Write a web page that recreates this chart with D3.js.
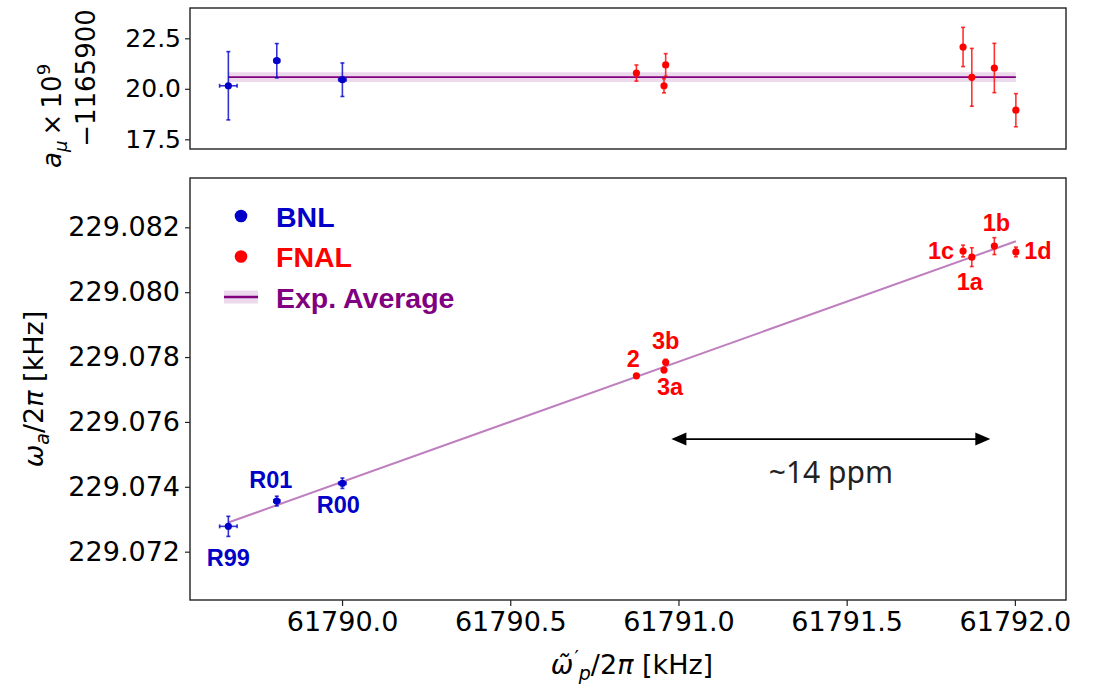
<!DOCTYPE html>
<html>
<head>
<meta charset="utf-8">
<script src="https://cdn.jsdelivr.net/npm/d3@7/dist/d3.min.js"></script>
<style>
  body { margin: 0; background: #fff; }
  svg { display: block; }
</style>
</head>
<body>
<svg id="chart" width="1094" height="689"></svg>
<script>
// ---------------- data ----------------
const bnlLabels = ["R99", "R01", "R00"];
const bnlWp     = [61789.662, 61789.806, 61790.001];
const bnlWpErr  = [0.026, 0.009, 0.011];
const bnlWa     = [229.07278, 229.07356, 229.07411];
const bnlWaErr  = [0.00031, 0.00015, 0.00016];
const bnlAmu    = [20.15, 21.39, 20.45];
const bnlAmuErr = [1.69, 0.85, 0.83];

const fnalLabels = ["2", "3a", "3b", "1a", "1b", "1c", "1d"];
const fnalWp     = [61790.875, 61790.957, 61790.962, 61791.872, 61791.939, 61791.846, 61792.003];
const fnalWpErr  = [0.003, 0.003, 0.003, 0.003, 0.003, 0.003, 0.003];
const fnalWa     = [229.07742, 229.07760, 229.07784, 229.08108, 229.08142, 229.08127, 229.08124];
const fnalWaErr  = [0.00005, 0.00008, 0.00009, 0.00029, 0.00026, 0.00018, 0.00015];
const fnalAmu    = [20.78, 20.15, 21.18, 20.57, 21.03, 22.07, 18.94];
const fnalAmuErr = [0.40, 0.35, 0.56, 1.43, 1.22, 0.97, 0.82];

const avgAmu = 20.58;
const avgAmuErr = 0.24;
const fitWp = [61789.662, 61792.003];
const fitWa = [229.07290, 229.08157];

const arrowWp = [61790.979, 61791.927];
const arrowWa = 229.07547;
const arrowText = "~14 ppm";

const xTicks = [61790.0, 61790.5, 61791.0, 61791.5, 61792.0];
const yTicksBottom = [229.072, 229.074, 229.076, 229.078, 229.080, 229.082];
const yTicksTop = [17.5, 20.0, 22.5];

const legendItems = ["BNL", "FNAL", "Exp. Average"];

// label placement offsets (px) relative to the points (style only)
const bnlLabelOff  = [[0, 40], [-6, -13], [-4, 30]];
const fnalLabelOff = [[-3, -9], [6, 25], [0, -13], [-2, 33], [2, -15], [-22, 8], [22, 7]];

// ---------------- layout ----------------
const BLUE = "#0000c8", RED = "#ff0000", PURPLE = "#800080";
const L = 190, R = 1066;
const topP = {t: 8, b: 149};
const botP = {t: 178, b: 600};

const svg = d3.select("#chart");

const x = d3.scaleLinear().domain([61789.548, 61792.152]).range([L, R]);
const yTop = d3.scaleLinear().domain([17.02, 24.0]).range([topP.b, topP.t]);
const yBot = d3.scaleLinear().domain([229.07051, 229.08352]).range([botP.b, botP.t]);

const bnl = bnlLabels.map((l, i) => ({l, wp: bnlWp[i], wpe: bnlWpErr[i], wa: bnlWa[i], wae: bnlWaErr[i], a: bnlAmu[i], ae: bnlAmuErr[i], off: bnlLabelOff[i]}));
const fnal = fnalLabels.map((l, i) => ({l, wp: fnalWp[i], wpe: fnalWpErr[i], wa: fnalWa[i], wae: fnalWaErr[i], a: fnalAmu[i], ae: fnalAmuErr[i], off: fnalLabelOff[i]}));

// ---------------- top panel ----------------
const gTop = svg.append("g");
gTop.append("rect")
  .attr("x", x(fitWp[0])).attr("width", x(fitWp[1]) - x(fitWp[0]))
  .attr("y", yTop(avgAmu + avgAmuErr)).attr("height", yTop(avgAmu - avgAmuErr) - yTop(avgAmu + avgAmuErr))
  .attr("fill", PURPLE).attr("fill-opacity", 0.15);
gTop.append("line")
  .attr("x1", x(fitWp[0])).attr("x2", x(fitWp[1]))
  .attr("y1", yTop(avgAmu)).attr("y2", yTop(avgAmu))
  .attr("stroke", PURPLE).attr("stroke-width", 1.8);

function errbars(g, data, color, yScale, yKey, yeKey, xErr) {
  const eg = g.append("g").attr("stroke", color).attr("stroke-opacity", 0.8).attr("stroke-width", 1.6);
  data.forEach(d => {
    const cx = x(d.wp);
    const y1 = yScale(d[yKey] - d[yeKey]), y2 = yScale(d[yKey] + d[yeKey]);
    eg.append("line").attr("x1", cx).attr("x2", cx).attr("y1", y1).attr("y2", y2);
    eg.append("line").attr("x1", cx - 2).attr("x2", cx + 2).attr("y1", y1).attr("y2", y1);
    eg.append("line").attr("x1", cx - 2).attr("x2", cx + 2).attr("y1", y2).attr("y2", y2);
    if (xErr) {
      const cy = yScale(d[yKey]);
      const x1 = x(d.wp - d.wpe), x2 = x(d.wp + d.wpe);
      eg.append("line").attr("x1", x1).attr("x2", x2).attr("y1", cy).attr("y2", cy);
      eg.append("line").attr("x1", x1).attr("x2", x1).attr("y1", cy - 2).attr("y2", cy + 2);
      eg.append("line").attr("x1", x2).attr("x2", x2).attr("y1", cy - 2).attr("y2", cy + 2);
    }
  });
  g.append("g").selectAll("circle").data(data).join("circle")
    .attr("cx", d => x(d.wp)).attr("cy", d => yScale(d[yKey]))
    .attr("r", 3.6).attr("fill", color);
}

errbars(gTop, bnl, BLUE, yTop, "a", "ae", true);
errbars(gTop, fnal, RED, yTop, "a", "ae", false);

const axTop = gTop.append("g").attr("transform", `translate(${L},0)`)
  .call(d3.axisLeft(yTop).tickValues(yTicksTop).tickFormat(d3.format(".1f")).tickSize(5).tickPadding(4));
axTop.select(".domain").remove();
axTop.selectAll("text").attr("font-family", "DejaVu Sans").attr("font-size", 25).attr("fill", "#000");
axTop.selectAll("line").attr("stroke", "#222").attr("stroke-width", 1.2);

gTop.append("rect").attr("x", L).attr("y", topP.t).attr("width", R - L).attr("height", topP.b - topP.t)
  .attr("fill", "none").attr("stroke", "#222").attr("stroke-width", 1.4);

// top y label (two lines, rotated)
const tl1 = svg.append("text").attr("font-family", "DejaVu Sans").attr("font-size", 26)
  .attr("text-anchor", "start").attr("transform", "translate(61,168) rotate(-90)");
tl1.append("tspan").attr("font-style", "italic").text("a");
tl1.append("tspan").attr("font-style", "italic").attr("font-size", 18).attr("dy", 6).text("μ");
tl1.append("tspan").attr("dy", -6).text("\u2009×\u200910");
tl1.append("tspan").attr("font-size", 18).attr("dy", -11).text("9");
svg.append("text").attr("font-family", "DejaVu Sans").attr("font-size", 26)
  .attr("text-anchor", "middle").attr("transform", "translate(95,78) rotate(-90)")
  .text("−1165900");

// ---------------- bottom panel ----------------
const gBot = svg.append("g");

gBot.append("line")
  .attr("x1", x(fitWp[0])).attr("x2", x(fitWp[1]))
  .attr("y1", yBot(fitWa[0])).attr("y2", yBot(fitWa[1]))
  .attr("stroke", PURPLE).attr("stroke-opacity", 0.5).attr("stroke-width", 2);

errbars(gBot, bnl, BLUE, yBot, "wa", "wae", true);
errbars(gBot, fnal, RED, yBot, "wa", "wae", false);

// point labels
gBot.append("g").selectAll("text").data(bnl).join("text")
  .attr("x", d => x(d.wp) + d.off[0]).attr("y", d => yBot(d.wa) + d.off[1])
  .attr("text-anchor", "middle").attr("font-family", "Liberation Sans, Arial, sans-serif")
  .attr("font-weight", "bold").attr("font-size", 23.5).attr("fill", BLUE).text(d => d.l);
gBot.append("g").selectAll("text").data(fnal).join("text")
  .attr("x", d => x(d.wp) + d.off[0]).attr("y", d => yBot(d.wa) + d.off[1])
  .attr("text-anchor", "middle").attr("font-family", "Liberation Sans, Arial, sans-serif")
  .attr("font-weight", "bold").attr("font-size", 23.5).attr("fill", RED).text(d => d.l);

// arrow annotation
const ay = yBot(arrowWa), ax1 = x(arrowWp[0]), ax2 = x(arrowWp[1]);
gBot.append("line").attr("x1", ax1 + 12).attr("x2", ax2 - 12).attr("y1", ay).attr("y2", ay)
  .attr("stroke", "#000").attr("stroke-width", 1.6);
gBot.append("path").attr("d", `M${ax1},${ay} L${ax1 + 15},${ay - 6.5} L${ax1 + 15},${ay + 6.5} Z`).attr("fill", "#000");
gBot.append("path").attr("d", `M${ax2},${ay} L${ax2 - 15},${ay - 6.5} L${ax2 - 15},${ay + 6.5} Z`).attr("fill", "#000");
gBot.append("text").attr("x", (ax1 + ax2) / 2).attr("y", ay + 44)
  .attr("text-anchor", "middle").attr("font-family", "Noto Sans, Open Sans, sans-serif")
  .attr("font-size", 30).attr("fill", "#222").text(arrowText);

// axes
const axB = gBot.append("g").attr("transform", `translate(0,${botP.b})`)
  .call(d3.axisBottom(x).tickValues(xTicks).tickFormat(d3.format(".1f")).tickSize(6).tickPadding(6));
const axL = gBot.append("g").attr("transform", `translate(${L},0)`)
  .call(d3.axisLeft(yBot).tickValues(yTicksBottom).tickFormat(d3.format(".3f")).tickSize(5).tickPadding(5));
[axB, axL].forEach(a => {
  a.select(".domain").remove();
  a.selectAll("text").attr("font-family", "DejaVu Sans").attr("font-size", 27).attr("fill", "#000");
  a.selectAll("line").attr("stroke", "#222").attr("stroke-width", 1.2);
});

gBot.append("rect").attr("x", L).attr("y", botP.t).attr("width", R - L).attr("height", botP.b - botP.t)
  .attr("fill", "none").attr("stroke", "#222").attr("stroke-width", 1.4);

// legend
const leg = gBot.append("g");
const legColors = [BLUE, RED, PURPLE];
legendItems.forEach((name, i) => {
  const ly = 216 + i * 40.5;
  if (i < 2) {
    leg.append("circle").attr("cx", 241).attr("cy", ly).attr("r", 6.3).attr("fill", legColors[i]);
  } else {
    leg.append("rect").attr("x", 224).attr("y", ly - 6.5).attr("width", 34).attr("height", 13)
      .attr("fill", PURPLE).attr("fill-opacity", 0.15);
    leg.append("line").attr("x1", 224).attr("x2", 258).attr("y1", ly).attr("y2", ly)
      .attr("stroke", PURPLE).attr("stroke-width", 2.5);
  }
  leg.append("text").attr("x", 276).attr("y", ly + 10.5)
    .attr("font-family", "Liberation Sans, Arial, sans-serif").attr("font-weight", "bold")
    .attr("font-size", 28.5).attr("fill", legColors[i]).text(name);
});

// axis labels
const yl = svg.append("text").attr("font-family", "DejaVu Sans").attr("font-size", 27)
  .attr("text-anchor", "middle").attr("transform", `translate(43,${(botP.t + botP.b) / 2}) rotate(-90)`);
yl.append("tspan").attr("font-style", "italic").text("ω");
yl.append("tspan").attr("font-style", "italic").attr("font-size", 19).attr("dy", 6).text("a");
yl.append("tspan").attr("dy", -6).text("/2");
yl.append("tspan").attr("font-style", "italic").text("π");
yl.append("tspan").text(" [kHz]");

const xl = svg.append("text").attr("font-family", "DejaVu Sans").attr("font-size", 27)
  .attr("text-anchor", "middle").attr("x", (L + R) / 2 + 4).attr("y", 674);
xl.append("tspan").attr("font-style", "italic").text("ω\u0303");
xl.append("tspan").attr("font-size", 19).attr("dx", 1).attr("dy", -10).text("′");
xl.append("tspan").attr("font-style", "italic").attr("font-size", 19).attr("dy", 16).text("p");
xl.append("tspan").attr("dy", -6).text("/2");
xl.append("tspan").attr("font-style", "italic").text("π");
xl.append("tspan").text(" [kHz]");
</script>
</body>
</html>
